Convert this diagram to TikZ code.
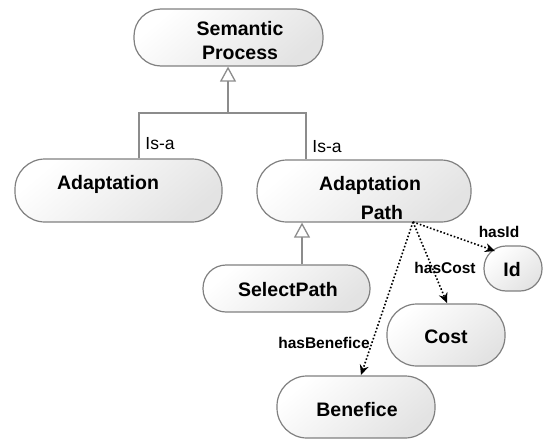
\documentclass[tikz,border=0pt]{standalone}
\usepackage{fontspec}
\setmainfont{Liberation Sans}
\usetikzlibrary{arrows.meta}
\definecolor{bordc}{HTML}{808080}
\definecolor{linec}{HTML}{8C8C8C}
\tikzset{
  cls/.style={draw=bordc, line width=1.2pt, top color=white, bottom color=gray!22, shading angle=40, inner sep=0pt},
  ttl/.style={font=\bfseries\fontsize{19.5}{24}\selectfont, align=center, inner sep=0pt},
  isa/.style={font=\fontsize{17.5}{20}\selectfont, inner sep=0pt},
  rel/.style={font=\bfseries\fontsize{15.5}{18}\selectfont, inner sep=0pt},
  gen/.style={draw=linec, line width=1.3pt},
  genarrow/.style={gen, -{Triangle[open, length=15pt, width=16pt, line width=1.3pt]}},
  prop/.style={draw=black, line width=1.6pt, dotted, -{Stealth[length=10pt, width=9pt]}}
}
\begin{document}
\begin{tikzpicture}[x=1pt, y=-1pt]
\useasboundingbox (0,0) rectangle (543,439);
% class boxes
\node[cls, minimum width=189pt, minimum height=57pt, rounded corners=27pt] (sp) at (228.5,37.5) {};
\node[cls, minimum width=207pt, minimum height=63pt, rounded corners=30pt] (ad) at (118.5,190.5) {};
\node[cls, minimum width=214pt, minimum height=62pt, rounded corners=30pt] (ap) at (364,191) {};
\node[cls, minimum width=167pt, minimum height=47pt, rounded corners=23pt] (sel) at (286.5,288.5) {};
\node[cls, minimum width=58pt, minimum height=45pt, rounded corners=22pt] (id) at (513,268.5) {};
\node[cls, minimum width=118pt, minimum height=62pt, rounded corners=30pt] (cost) at (446,335) {};
\node[cls, minimum width=158pt, minimum height=62pt, rounded corners=30pt] (ben) at (356,407) {};
% texts
\node[ttl] (tsp) at (240,41) {Semantic\\Process};
\node[ttl] (tad) at (108,184) {Adaptation};
\node[ttl] (tap1) at (370,185) {Adaptation};
\node[ttl] (tap2) at (382,213) {Path};
\node[ttl] (tsel) at (288,290) {SelectPath};
\node[ttl] (tid) at (512,270) {Id};
\node[ttl] (tcost) at (446,337) {Cost};
\node[ttl] (tben) at (357,410) {Benefice};
% generalization
\coordinate (j) at (228,113);
\coordinate (jl) at (139,113);
\coordinate (jr) at (306,113);
\draw[gen] ([xshift=20.5pt]ad.north) -- (jl) -- (jr) -- ([xshift=-58pt]ap.north);
\draw[genarrow] (j) -- (sp.south -| j);
\draw[genarrow] ([xshift=15.5pt]sel.north) -- ([xshift=15.5pt]sel.north |- ap.south);
\node[isa] (l1) at (160,144) {Is-a};
\node[isa] (l2) at (327,147) {Is-a};
% properties
\coordinate (src) at (413,222);
\draw[prop] (src) -- (495,251) coordinate (eid);
\draw[prop] (src) -- (447,303) coordinate (ecost);
\draw[prop] (src) -- (361,375) coordinate (eben);
\node[rel] (lid) at (499,232) {hasId};
\node[rel] (lcost) at (445,268) {hasCost};
\node[rel] (lben) at (324,343) {hasBenefice};
\end{tikzpicture}
\end{document}
